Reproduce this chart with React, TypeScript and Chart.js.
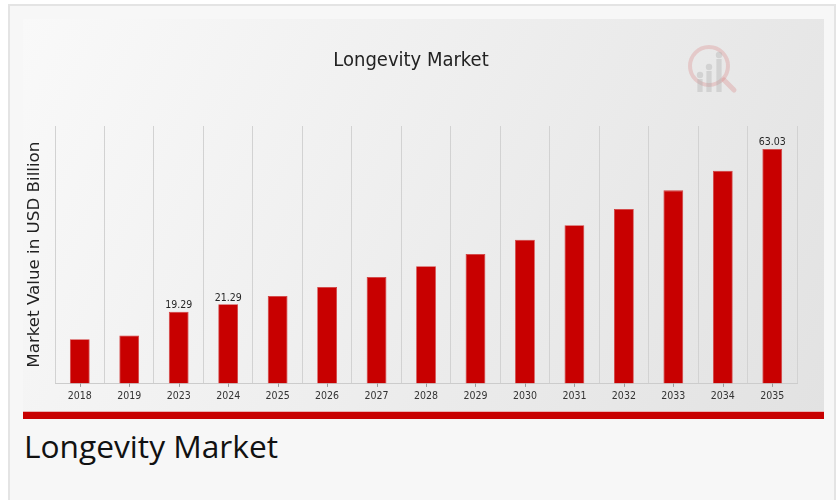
import React, { useEffect, useRef } from "react";
import { Chart, registerables } from "chart.js";

Chart.register(...registerables);

const chartTitle = "Longevity Market";
const yAxisTitle = "Market Value in USD Billion";
const years = ["2018", "2019", "2023", "2024", "2025", "2026", "2027", "2028", "2029", "2030", "2031", "2032", "2033", "2034", "2035"];
const marketValues = [11.9, 12.9, 19.29, 21.29, 23.5, 25.9, 28.6, 31.5, 34.8, 38.6, 42.5, 46.9, 51.9, 57.2, 63.03];
const labelledYears = ["2023", "2024", "2035"];
const yMax = 69.2;

const BAR_RED = "#c80000";
const COND = "'DejaVu Sans Condensed', 'DejaVu Sans', sans-serif";

const backgroundPlugin = {
  id: "bgPanel",
  beforeDraw(chart: any) {
    const { ctx, width, height } = chart;
    ctx.save();
    const g = ctx.createLinearGradient(0, 0, width, height);
    g.addColorStop(0, "#f9f9f9");
    g.addColorStop(1, "#e2e2e2");
    ctx.fillStyle = g;
    ctx.fillRect(0, 0, width, height);
    // bottom red band
    ctx.fillStyle = "#e8b4b4";
    ctx.fillRect(0, height - 8, width, 1);
    ctx.fillStyle = BAR_RED;
    ctx.fillRect(0, height - 7, width, 7);
    // faint watermark logo
    const cx = 686, cy = 47;
    ctx.strokeStyle = "rgba(215,120,120,0.28)";
    ctx.lineWidth = 4;
    ctx.beginPath();
    ctx.arc(cx, cy, 19, 0, Math.PI * 2);
    ctx.stroke();
    ctx.lineWidth = 5;
    ctx.lineCap = "round";
    ctx.beginPath();
    ctx.moveTo(cx + 15, cy + 14);
    ctx.lineTo(cx + 25, cy + 24);
    ctx.stroke();
    ctx.fillStyle = "rgba(170,170,170,0.35)";
    const bars = [
      [-9, 9],
      [0, 1],
      [10, -11],
    ];
    for (const [dx, top] of bars) {
      ctx.beginPath();
      ctx.arc(cx + dx, cy + top, 3.2, 0, Math.PI * 2);
      ctx.fill();
      ctx.fillRect(cx + dx - 2.6, cy + top + 4, 5.2, 22 - top);
    }
    ctx.restore();
  },
};

const tickMarkPlugin = {
  id: "tickMarks",
  afterDraw(chart: any) {
    const { ctx, chartArea } = chart;
    const xs = chart.scales.x;
    ctx.save();
    ctx.strokeStyle = "#9a9a9a";
    ctx.lineWidth = 1;
    xs.ticks.forEach((_: any, i: number) => {
      const x = Math.round(xs.getPixelForTick(i)) + 0.5;
      ctx.beginPath();
      ctx.moveTo(x, chartArea.bottom);
      ctx.lineTo(x, chartArea.bottom + 3.5);
      ctx.stroke();
    });
    ctx.restore();
  },
};

const valueLabelPlugin = {
  id: "valueLabels",
  afterDatasetsDraw(chart: any) {
    const { ctx } = chart;
    const meta = chart.getDatasetMeta(0);
    const ds = chart.data.datasets[0];
    ctx.save();
    ctx.font = "10.5px " + COND;
    ctx.fillStyle = "#262626";
    ctx.textAlign = "center";
    ctx.textBaseline = "bottom";
    chart.data.labels.forEach((lab: string, i: number) => {
      if (!labelledYears.includes(lab)) return;
      const el = meta.data[i];
      ctx.fillText(Number(ds.data[i]).toFixed(2), el.x, el.y - 1);
    });
    ctx.restore();
  },
};

function LongevityChart() {
  const ref = useRef<HTMLCanvasElement | null>(null);
  useEffect(() => {
    if (!ref.current) return;
    Chart.defaults.font.family = "'DejaVu Sans', sans-serif";
    const chart = new Chart(ref.current, {
      type: "bar",
      data: {
        labels: years,
        datasets: [
          {
            data: marketValues,
            backgroundColor: BAR_RED,
            borderColor: "#d23a3a",
            borderWidth: 0.8,
            barPercentage: 0.4,
            categoryPercentage: 1,
          },
        ],
      },
      options: {
        responsive: false,
        devicePixelRatio: 1,
        animation: false,
        layout: { padding: { left: 2, right: 27, top: 0, bottom: 9 } },
        plugins: {
          legend: { display: false },
          tooltip: { enabled: false },
          title: {
            display: true,
            text: chartTitle,
            color: "#222",
            font: { size: 20, weight: "normal" as any, family: COND },
            padding: { top: 30, bottom: 53 },
          },
        },
        scales: {
          x: {
            offset: true,
            grid: { display: true, offset: true, color: "#d2d2d2", lineWidth: 1, drawTicks: false },
            border: { display: true, color: "#cccccc" },
            ticks: { color: "#333", font: { size: 10.5, family: COND }, padding: 7, maxRotation: 0, autoSkip: false },
          },
          y: {
            min: 0,
            max: yMax,
            grid: { display: false, drawTicks: false },
            border: { display: false },
            ticks: { display: false },
            title: {
              display: true,
              text: yAxisTitle,
              color: "#222",
              font: { size: 16.7 },
              padding: { top: 0, bottom: 10 },
            },
          },
        },
      },
      plugins: [backgroundPlugin, tickMarkPlugin, valueLabelPlugin],
    });
    return () => chart.destroy();
  }, []);
  return (
    <canvas
      ref={ref}
      width={801}
      height={400}
      style={{ position: "absolute", left: 23, top: 19, width: 801, height: 400 }}
    />
  );
}

export default function App() {
  return (
    <div style={{ position: "absolute", left: 0, top: 0, width: 838, height: 500, background: "#ffffff", overflow: "hidden" }}>
      <div
        style={{
          position: "absolute",
          left: 8,
          top: 4,
          width: 828,
          height: 520,
          boxSizing: "border-box",
          border: "2px solid #e4e4e4",
          background: "#f7f7f7",
        }}
      />
      <LongevityChart />
      <div
        style={{
          position: "absolute",
          left: 24,
          top: 430,
          fontFamily: "'Open Sans', sans-serif",
          fontWeight: 400,
          fontSize: 31.7,
          lineHeight: 1,
          color: "#111",
          whiteSpace: "nowrap",
        }}
      >
        Longevity Market
      </div>
    </div>
  );
}
